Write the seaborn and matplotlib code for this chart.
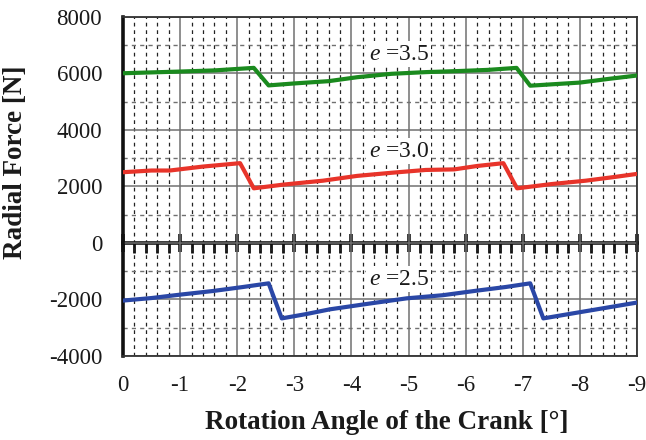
import matplotlib
matplotlib.use("Agg")
import matplotlib.pyplot as plt
from matplotlib.ticker import MultipleLocator, FixedLocator
import seaborn as sns
import pandas as pd
import numpy as np

# ---- data ----
x_e35 = [0, -0.5, -1.0, -1.6, -2.29, -2.55, -3.0, -3.6, -4.1, -4.7, -5.3, -5.9, -6.4, -6.89, -7.13, -7.6, -8.0, -8.5, -9.0]
y_e35 = [6000, 6030, 6060, 6100, 6190, 5570, 5640, 5720, 5860, 5980, 6040, 6080, 6120, 6190, 5560, 5620, 5670, 5800, 5920]

x_e30 = [0, -0.5, -0.82, -1.4, -2.05, -2.29, -2.8, -3.5, -4.1, -4.7, -5.3, -5.8, -6.2, -6.66, -6.9, -7.5, -8.1, -8.6, -9.0]
y_e30 = [2500, 2560, 2560, 2700, 2820, 1930, 2060, 2200, 2370, 2480, 2580, 2600, 2720, 2820, 1930, 2080, 2200, 2330, 2440]

x_e25 = [0, -0.5, -1.0, -1.58, -2.1, -2.55, -2.78, -3.2, -3.62, -4.3, -4.97, -5.6, -6.19, -6.7, -7.13, -7.36, -8.0, -8.5, -9.0]
y_e25 = [-2040, -1950, -1830, -1700, -1560, -1430, -2670, -2520, -2350, -2150, -1960, -1850, -1690, -1560, -1430, -2670, -2450, -2280, -2110]

series_names = ["3.5", "3.0", "2.5"]
series_colors = ["#1a8a1e", "#e8342a", "#2a47a6"]
label_pos_x = [-4.3, -4.3, -4.3]
label_pos_y = [6680, 3250, -1280]

x_ticks = [0, -1, -2, -3, -4, -5, -6, -7, -8, -9]
y_ticks = [-4000, -2000, 0, 2000, 4000, 6000, 8000]

# ---- build frame ----
frames = []
for name, xs, ys in zip(series_names, [x_e35, x_e30, x_e25], [y_e35, y_e30, y_e25]):
    frames.append(pd.DataFrame({"angle": xs, "force": ys, "e": name}))
df = pd.concat(frames, ignore_index=True)

sns.set_style("white")
plt.rcParams["font.family"] = ["Liberation Serif", "DejaVu Serif"]
plt.rcParams["mathtext.fontset"] = "custom"
plt.rcParams["mathtext.it"] = "Liberation Serif:italic"
plt.rcParams["mathtext.rm"] = "Liberation Serif"

fig = plt.figure(figsize=(6.46, 4.40), dpi=100)
ax = fig.add_axes([123/646, 1-356/440, (637-123)/646, (356-16.7)/440])

sns.lineplot(data=df, x="angle", y="force", hue="e", units="e", estimator=None,
             sort=False, palette=dict(zip(series_names, series_colors)),
             linewidth=3.0, legend=False, ax=ax, zorder=5)

ax.set_xlim(0, -9)
ax.set_ylim(-4000, 8000)

minor_x = [float(v) for v in np.round(np.arange(0, -9.01, -0.2), 2)]

# grid
ax.xaxis.set_major_locator(FixedLocator(x_ticks))
ax.xaxis.set_minor_locator(FixedLocator(minor_x))
ax.yaxis.set_major_locator(FixedLocator(y_ticks))
ax.yaxis.set_minor_locator(MultipleLocator(1000))
ax.grid(which="major", axis="both", color="#707070", linewidth=1.1, linestyle="-")
ax.grid(which="minor", axis="x", color="#222222", linewidth=0.9, linestyle=(0, (3, 3)))
ax.grid(which="minor", axis="y", color="#707070", linewidth=1.0, linestyle=(0, (3, 3)))
ax.set_axisbelow(True)

# spines
for s in ["top", "right", "bottom"]:
    ax.spines[s].set_visible(True)
    ax.spines[s].set_color("#333333")
    ax.spines[s].set_linewidth(1.3)
ax.spines["left"].set_color("#111111")
ax.spines["left"].set_linewidth(2.6)

# ticks
ax.tick_params(axis="x", which="both", bottom=False, top=False, labelsize=16.5, pad=14, colors="#1a1a1a")
ax.tick_params(axis="x", which="major", length=0)
ax.tick_params(axis="y", which="major", direction="inout", length=13, width=2.2, labelsize=16.5, pad=8.5, colors="#1a1a1a")
ax.tick_params(axis="y", which="minor", direction="in", length=5, width=1.6, colors="#1a1a1a")
ax.set_xticklabels([str(t) for t in x_ticks])
ax.set_yticklabels([str(t) for t in y_ticks])

# zero axis with ticks
sec = ax.secondary_xaxis(4000/12000)
sec.set_xticks(x_ticks)
sec.set_xticks(minor_x, minor=True)
sec.spines["bottom"].set_linewidth(2.6)
sec.spines["bottom"].set_color("#111111")
sec.tick_params(axis="x", which="major", direction="inout", length=13, width=2.6, labelbottom=False, colors="#111111")
sec.tick_params(axis="x", which="minor", direction="out", length=7, width=2.0, labelbottom=False, colors="#111111")

# labels
ax.set_xlabel("Rotation Angle of the Crank [°]", fontsize=19.5, fontweight="bold", color="#1a1a1a")
ax.xaxis.set_label_coords((387 - 123) / 514, -(410 - 356) / 339.3)
ax.xaxis.label.set_va("top")
ax.set_ylabel("Radial Force [N]", fontsize=19.5, fontweight="bold", color="#1a1a1a")
ax.yaxis.set_label_coords((28 - 123) / 514, (356 - 162) / 339.3)

for name, lx, ly in zip(series_names, label_pos_x, label_pos_y):
    ax.text(lx, ly, r"$e$ =" + name, fontsize=17, ha="left", va="center", color="#1a1a1a", zorder=6,
            bbox=dict(facecolor="white", edgecolor="none", pad=1.5))

fig.savefig("out.png", dpi=100)
